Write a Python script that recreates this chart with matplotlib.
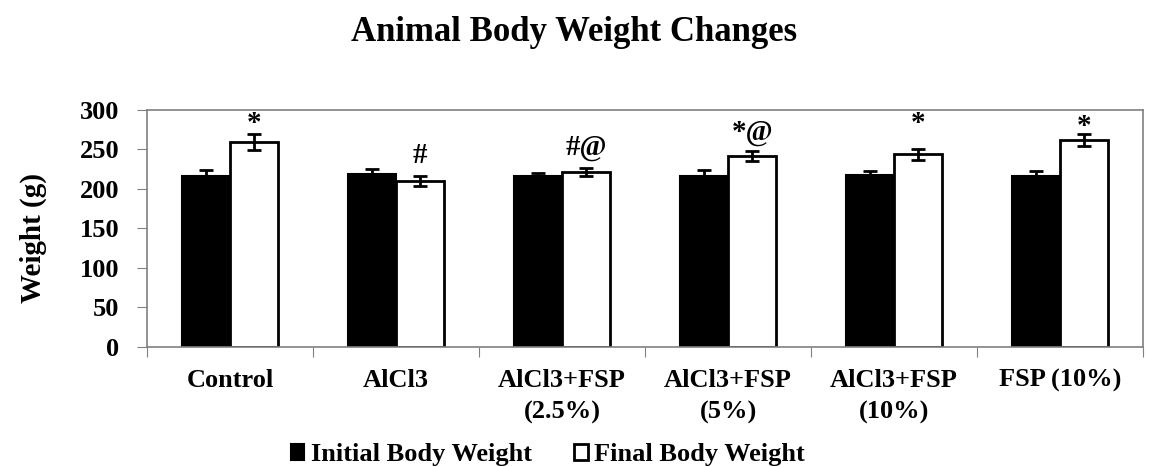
import numpy as np
import matplotlib
matplotlib.use('Agg')
import matplotlib.pyplot as plt

plt.rcParams['font.family'] = ['Liberation Serif', 'DejaVu Serif']
plt.rcParams['font.weight'] = 'bold'

groups = ["Control", "AlCl3", "AlCl3+FSP\n(2.5%)", "AlCl3+FSP\n(5%)", "AlCl3+FSP\n(10%)", "FSP (10%)"]
initial = [217, 219, 216, 216, 218, 217]
initial_err = [7, 6, 4, 8, 5, 6]
final = [259, 210, 221, 242, 244, 262]
final_err = [10, 6, 5, 6, 7, 8]
marks = ["*", "#", "#@", "*@", "*", "*"]
mark_y = [283, 243, 253, 272, 283, 279]

fig = plt.figure(figsize=(11.49, 4.67), dpi=100)
ax = fig.add_axes([0.128, 0.257, 0.8668, 0.5075])

x = np.arange(len(groups))
w = 0.29
ax.bar(x - w/2, initial, w, color='black', edgecolor='black', linewidth=1.5,
       yerr=initial_err, error_kw=dict(ecolor='black', elinewidth=2, capsize=5, capthick=2),
       label='Initial Body Weight', zorder=2)
ax.bar(x + w/2, final, w, color='white', edgecolor='black', linewidth=2,
       yerr=final_err, error_kw=dict(ecolor='black', elinewidth=2, capsize=5, capthick=2),
       label='Final Body Weight', zorder=2)

for i in range(len(groups)):
    ax.text(x[i] + w/2, mark_y[i], marks[i], ha='center', va='center',
            fontsize=21, fontweight='bold')

ax.set_xlim(-0.5, len(groups) - 0.5)
ax.set_ylim(0, 300)
ax.set_yticks(np.arange(0, 301, 50))
ax.set_xticks(np.arange(len(groups) + 1) - 0.5)
ax.set_xticklabels([])
ax.set_xticks(x, minor=True)
ax.set_xticklabels(groups, minor=True, fontsize=19, fontweight='bold', linespacing=1.45)
ax.tick_params(axis='x', which='minor', length=0, pad=16)
ax.tick_params(axis='x', which='major', length=7, color='#808080', direction='out')
ax.tick_params(axis='y', length=7, color='#808080', direction='out', labelsize=19, pad=13)
for s in ax.spines.values():
    s.set_color('#808080')
    s.set_linewidth(1.2)

ax.set_ylabel('Weight (g)', fontsize=21, fontweight='bold')
ax.yaxis.set_label_coords(-0.100, 0.46)
fig.suptitle('Animal Body Weight Changes', fontsize=25, fontweight='bold', y=0.965)

fig.legend(loc='center', bbox_to_anchor=(0.477, 0.026), ncol=2, frameon=False,
           fontsize=19, handlelength=0.5, handleheight=0.5, handletextpad=0.25,
           columnspacing=1.6, borderpad=0)

fig.savefig('out.png', dpi=100)
